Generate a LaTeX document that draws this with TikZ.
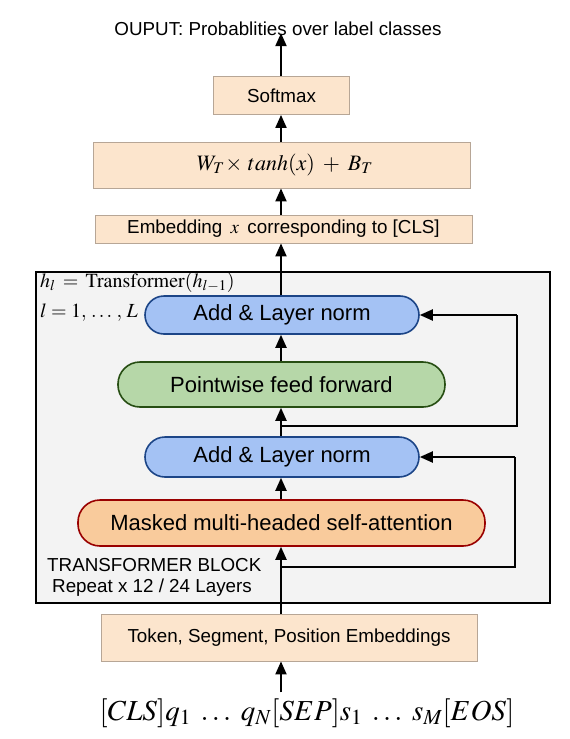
\documentclass[tikz,border=0pt]{standalone}
\usepackage{mathptmx}
\usepackage[no-math]{fontspec}
\setmainfont{Liberation Sans}
\usetikzlibrary{arrows.meta,calc}
\definecolor{beige}{HTML}{FCE5CD}
\definecolor{beigeline}{HTML}{B7A696}
\definecolor{blueF}{HTML}{A4C2F4}
\definecolor{blueD}{HTML}{1C4587}
\definecolor{greenF}{HTML}{B6D7A8}
\definecolor{greenD}{HTML}{274E13}
\definecolor{orangeF}{HTML}{F9CB9C}
\definecolor{orangeD}{HTML}{990000}
\definecolor{blockF}{HTML}{F3F3F3}
\tikzset{
  flat/.style={rectangle, draw=beigeline, fill=beige, line width=0.8pt, inner sep=0pt, font=\fontsize{18.8}{22}\selectfont},
  pill/.style={rectangle, rounded corners=#1, line width=1.6pt, inner sep=0pt, font=\fontsize{22}{26}\selectfont},
  arr/.style={line width=2pt, -{Triangle[length=13pt,width=11pt]}},
  res/.style={line width=2pt, rounded corners=0pt},
  lbl/.style={inner sep=0pt, font=\fontsize{18.8}{22}\selectfont},
}
\begin{document}
\begin{tikzpicture}[x=1pt,y=-1pt]
\useasboundingbox[fill=white] (0,0) rectangle (570,739);
\coordinate (axis) at (281,0);
% transformer block
\node[draw=black, fill=blockF, line width=2.4pt, rectangle, inner sep=0pt, minimum width=514pt, minimum height=331pt, anchor=north west] (block) at (35,271) {};
% top stack
\node[lbl] (title) at (278,29) {OUPUT: Probablities over label classes};
\node[flat, minimum width=136pt, minimum height=38pt] (soft) at (281.5,95.5) {Softmax};
\node[flat, minimum width=377pt, minimum height=46pt, font=\fontsize{22}{26}\selectfont] (wbox) at (281.5,165) {\hspace*{7pt}$W_T\!\times\, tanh(x) \;+\; B_T$};
\node[flat, minimum width=377pt, minimum height=28pt] (emb) at (283.5,229) {Embedding \,$x$\, corresponding to [CLS]};
% block contents
\node[pill=19pt, draw=blueD, fill=blueF, minimum width=274pt, minimum height=38pt] (add2) at (282,315) {Add \& Layer norm};
\node[pill=22pt, draw=greenD, fill=greenF, minimum width=327pt, minimum height=45pt] (ff) at (281.5,384.5) {Pointwise feed forward};
\node[pill=20pt, draw=blueD, fill=blueF, minimum width=274pt, minimum height=40pt] (add1) at (282,457) {Add \& Layer norm};
\node[pill=22pt, draw=orangeD, fill=orangeF, minimum width=407pt, minimum height=46pt] (mha) at (281.5,523) {Masked multi-headed self-attention};
\node[lbl, anchor=west, font=\fontsize{20}{24}\selectfont] (hl) at (40,282) {$h_l \:=\: \mathrm{Transformer}(h_{l-1})$};
\node[lbl, anchor=west, font=\fontsize{20}{24}\selectfont] (ll) at (40,313) {$l = 1,\, \ldots\, ,\, L$};
\node[lbl, anchor=west] (tb) at (47,565) {TRANSFORMER BLOCK};
\node[lbl, anchor=west] (rep) at (52,588) {Repeat x 12 / 24 Layers};
% bottom
\node[flat, minimum width=376pt, minimum height=47pt] (tok) at (289,637.5) {Token, Segment, Position Embeddings};
\node[lbl, font=\fontsize{29}{33}\selectfont] (inp) at (307,713) {$[CLS]q_1 \;\ldots\; q_N[SEP]s_1 \;\ldots\; s_M[EOS]$};
% coordinates for residual branches
\coordinate (b1) at (281,567);
\coordinate (r1) at (515,567);
\coordinate (b2) at (281,426);
\coordinate (r2) at (517,426);
% main arrows
\draw[arr] (inp.north -| axis) ++(0,-6) -- (tok.south -| axis);
\draw[arr] (tok.north -| axis) -- (mha.south -| axis);
\draw[arr] (mha.north -| axis) -- (add1.south -| axis);
\draw[arr] (add1.north -| axis) -- (ff.south -| axis);
\draw[arr] (ff.north -| axis) -- (add2.south -| axis);
\draw[arr] (add2.north -| axis) -- (emb.south -| axis);
\draw[arr] (emb.north -| axis) -- (wbox.south -| axis);
\draw[arr] (wbox.north -| axis) -- (soft.south -| axis);
\draw[arr] (soft.north -| axis) -- ($(title.south -| axis)+(0,-3)$);
% residuals
\draw[res] (b1) -- (r1) -- (r1 |- add1.east);
\draw[arr] (r1 |- add1.east) -- (add1.east);
\draw[res] (b2) -- (r2) -- (r2 |- add2.east);
\draw[arr] (r2 |- add2.east) -- (add2.east);
\end{tikzpicture}
\end{document}
